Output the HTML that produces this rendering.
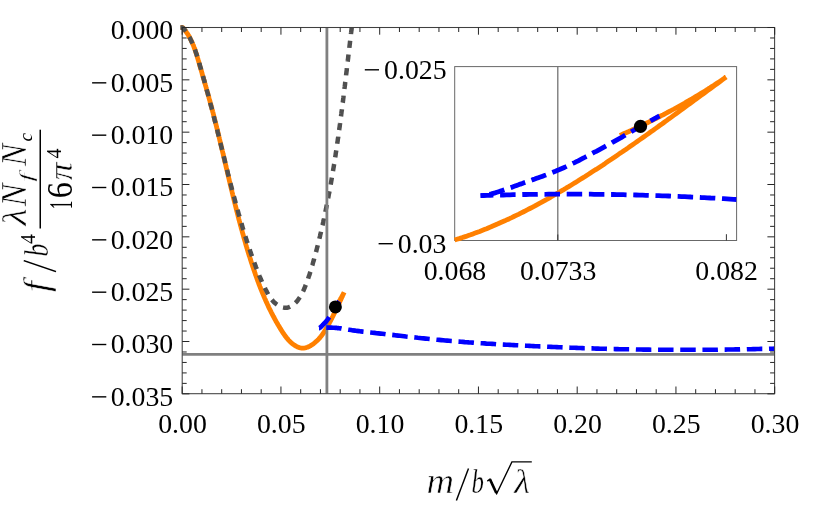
<!DOCTYPE html>
<html><head><meta charset="utf-8"><title>chart</title>
<style>
html,body{margin:0;padding:0;background:#fff;}
body{width:830px;height:509px;overflow:hidden;font-family:"Liberation Serif",serif;}
svg{display:block}
.tk{stroke:#262626;stroke-width:1;fill:none}
.fr0{stroke:#404040;stroke-width:1.05;fill:none}
.itk{stroke:#686868;stroke-width:1}
.itk2{stroke:#333;stroke-width:1}
.iv{stroke:#737373;stroke-width:1.3}
</style></head><body>
<svg width="830" height="509" viewBox="0 0 830 509">
<rect width="830" height="509" fill="#fff"/>
<defs>
<clipPath id="cm"><rect x="179.2" y="24.5" width="595.4000000000001" height="369.2"/></clipPath>
<clipPath id="ci"><rect x="451.7" y="66.1" width="284.90000000000003" height="177.4"/></clipPath>
</defs>
<g clip-path="url(#cm)" fill="none">
<path d="M180.6 27.5 L182.2 27.5 L182.9 27.8 L183.4 28.3 L183.8 28.8 L184.3 29.3 L184.7 29.9 L185.1 30.4 L185.5 31.0 L185.9 31.5 L186.3 32.1 L186.7 32.7 L187.1 33.2 L187.5 33.8 L187.9 34.4 L188.2 35.0 L188.6 35.6 L188.9 36.1 L189.2 36.7 L189.6 37.3 L189.9 37.9 L190.2 38.5 L190.5 39.2 L190.8 39.8 L191.1 40.4 L191.4 41.0 L191.7 41.6 L192.0 42.3 L192.3 42.9 L192.6 43.5 L192.8 44.2 L193.1 44.8 L193.4 45.4 L193.6 46.1 L193.9 46.7 L194.1 47.4 L194.3 48.0 L194.6 48.7 L194.8 49.3 L195.1 50.0 L195.3 50.6 L195.5 51.3 L195.7 52.0 L195.9 52.6 L196.2 53.3 L196.4 53.9 L196.6 54.6 L196.8 55.3 L197.0 55.9 L197.2 56.6 L197.4 57.3 L197.6 58.0 L197.8 58.6 L198.0 59.3 L198.2 60.0 L198.4 60.6 L198.6 61.3 L198.8 62.0 L199.0 62.7 L199.2 63.3 L199.4 64.0 L199.6 64.7 L199.7 65.4 L199.9 66.0 L200.1 66.7 L200.3 67.4 L200.5 68.0 L200.7 68.7 L200.9 69.4 L201.1 70.0 L201.3 70.7 L201.5 71.4 L201.7 72.1 L201.9 72.7 L202.1 73.4 L202.2 74.1 L202.4 74.7 L202.6 75.4 L202.8 76.1 L203.0 76.7 L203.2 77.4 L203.4 78.1 L203.6 78.7 L203.8 79.4 L204.0 80.1 L204.2 80.7 L204.4 81.4 L204.5 82.1 L204.7 82.7 L204.9 83.4 L205.1 84.1 L205.3 84.7 L205.5 85.4 L205.7 86.0 L205.9 86.7 L206.1 87.4 L206.3 88.0 L206.4 88.7 L206.6 89.4 L206.8 90.0 L207.0 90.7 L207.2 91.4 L207.4 92.0 L207.6 92.7 L207.8 93.4 L207.9 94.0 L208.1 94.7 L208.3 95.4 L208.5 96.0 L208.7 96.7 L208.9 97.4 L209.0 98.0 L209.2 98.7 L209.4 99.4 L209.6 100.0 L209.8 100.7 L210.0 101.4 L210.1 102.0 L210.3 102.7 L210.5 103.4 L210.7 104.0 L210.9 104.7 L211.0 105.4 L211.2 106.0 L211.4 106.7 L211.6 107.4 L211.8 108.0 L211.9 108.7 L212.1 109.4 L212.3 110.0 L212.5 110.7 L212.6 111.4 L212.8 112.0 L213.0 112.7 L213.2 113.4 L213.3 114.1 L213.5 114.7 L213.7 115.4 L213.8 116.1 L214.0 116.7 L214.2 117.4 L214.4 118.1 L214.5 118.7 L214.7 119.4 L214.9 120.1 L215.0 120.8 L215.2 121.4 L215.4 122.1 L215.6 122.8 L215.7 123.5 L215.9 124.1 L216.1 124.8 L216.2 125.5 L216.4 126.1 L216.6 126.8 L216.7 127.5 L216.9 128.2 L217.1 128.8 L217.2 129.5 L217.4 130.2 L217.6 130.9 L217.7 131.5 L217.9 132.2 L218.1 132.9 L218.2 133.5 L218.4 134.2 L218.5 134.9 L218.7 135.6 L218.9 136.2 L219.0 136.9 L219.2 137.6 L219.4 138.3 L219.5 138.9 L219.7 139.6 L219.8 140.3 L220.0 141.0 L220.2 141.6 L220.3 142.3 L220.5 143.0 L220.7 143.7 L220.8 144.3 L221.0 145.0 L221.1 145.7 L221.3 146.4 L221.5 147.1 L221.6 147.7 L221.8 148.4 L221.9 149.1 L222.1 149.8 L222.3 150.4 L222.4 151.1 L222.6 151.8 L222.7 152.5 L222.9 153.1 L223.1 153.8 L223.2 154.5 L223.4 155.2 L223.5 155.8 L223.7 156.5 L223.9 157.2 L224.0 157.9 L224.2 158.6 L224.3 159.2 L224.5 159.9 L224.7 160.6 L224.8 161.3 L225.0 161.9 L225.1 162.6 L225.3 163.3 L225.4 164.0 L225.6 164.6 L225.8 165.3 L225.9 166.0 L226.1 166.7 L226.2 167.4 L226.4 168.0 L226.6 168.7 L226.7 169.4 L226.9 170.1 L227.0 170.7 L227.2 171.4 L227.4 172.1 L227.5 172.8 L227.7 173.4 L227.8 174.1 L228.0 174.8 L228.2 175.5 L228.3 176.2 L228.5 176.8 L228.6 177.5 L228.8 178.2 L229.0 178.9 L229.1 179.5 L229.3 180.2 L229.4 180.9 L229.6 181.6 L229.8 182.2 L229.9 182.9 L230.1 183.6 L230.2 184.3 L230.4 184.9 L230.6 185.6 L230.7 186.3 L230.9 187.0 L231.0 187.7 L231.2 188.3 L231.4 189.0 L231.5 189.7 L231.7 190.4 L231.9 191.0 L232.0 191.7 L232.2 192.4 L232.3 193.1 L232.5 193.7 L232.7 194.4 L232.8 195.1 L233.0 195.8 L233.2 196.4 L233.3 197.1 L233.5 197.8 L233.7 198.5 L233.8 199.1 L234.0 199.8 L234.2 200.5 L234.3 201.2 L234.5 201.8 L234.7 202.5 L234.8 203.2 L235.0 203.9 L235.2 204.5 L235.3 205.2 L235.5 205.9 L235.7 206.6 L235.8 207.2 L236.0 207.9 L236.2 208.6 L236.3 209.3 L236.5 209.9 L236.7 210.6 L236.8 211.3 L237.0 211.9 L237.2 212.6 L237.4 213.3 L237.5 214.0 L237.7 214.6 L237.9 215.3 L238.1 216.0 L238.2 216.7 L238.4 217.3 L238.6 218.0 L238.7 218.7 L238.9 219.3 L239.1 220.0 L239.3 220.7 L239.5 221.3 L239.6 222.0 L239.8 222.7 L240.0 223.4 L240.2 224.0 L240.3 224.7 L240.5 225.4 L240.7 226.0 L240.9 226.7 L241.1 227.4 L241.2 228.0 L241.4 228.7 L241.6 229.4 L241.8 230.1 L242.0 230.7 L242.2 231.4 L242.3 232.1 L242.5 232.7 L242.7 233.4 L242.9 234.1 L243.1 234.7 L243.3 235.4 L243.5 236.1 L243.6 236.7 L243.8 237.4 L244.0 238.1 L244.2 238.7 L244.4 239.4 L244.6 240.1 L244.8 240.7 L245.0 241.4 L245.2 242.1 L245.4 242.7 L245.6 243.4 L245.7 244.0 L245.9 244.7 L246.1 245.4 L246.3 246.0 L246.5 246.7 L246.7 247.4 L246.9 248.0 L247.1 248.7 L247.3 249.4 L247.5 250.0 L247.7 250.7 L247.9 251.3 L248.1 252.0 L248.3 252.7 L248.5 253.3 L248.7 254.0 L248.9 254.6 L249.1 255.3 L249.3 256.0 L249.6 256.6 L249.8 257.3 L250.0 257.9 L250.2 258.6 L250.4 259.3 L250.6 259.9 L250.8 260.6 L251.0 261.2 L251.2 261.9 L251.4 262.5 L251.7 263.2 L251.9 263.9 L252.1 264.5 L252.3 265.2 L252.5 265.8 L252.7 266.5 L253.0 267.1 L253.2 267.8 L253.4 268.4 L253.6 269.1 L253.8 269.7 L254.1 270.4 L254.3 271.1 L254.5 271.7 L254.7 272.4 L255.0 273.0 L255.2 273.7 L255.4 274.3 L255.6 275.0 L255.9 275.6 L256.1 276.3 L256.3 276.9 L256.6 277.6 L256.8 278.2 L257.0 278.9 L257.3 279.5 L257.5 280.2 L257.7 280.8 L258.0 281.5 L258.2 282.1 L258.5 282.7 L258.7 283.4 L258.9 284.0 L259.2 284.7 L259.4 285.3 L259.7 286.0 L259.9 286.6 L260.2 287.3 L260.4 287.9 L260.7 288.5 L260.9 289.2 L261.2 289.8 L261.5 290.5 L261.7 291.1 L262.0 291.7 L262.2 292.4 L262.5 293.0 L262.8 293.7 L263.0 294.3 L263.3 294.9 L263.6 295.6 L263.8 296.2 L264.1 296.9 L264.4 297.5 L264.6 298.1 L264.9 298.8 L265.2 299.4 L265.5 300.0 L265.7 300.7 L266.0 301.3 L266.3 301.9 L266.6 302.6 L266.9 303.2 L267.2 303.8 L267.5 304.5 L267.8 305.1 L268.1 305.7 L268.3 306.3 L268.6 307.0 L268.9 307.6 L269.2 308.2 L269.5 308.9 L269.9 309.5 L270.2 310.1 L270.5 310.7 L270.8 311.3 L271.1 312.0 L271.4 312.6 L271.7 313.2 L272.0 313.8 L272.4 314.5 L272.7 315.1 L273.0 315.7 L273.3 316.3 L273.7 316.9 L274.0 317.6 L274.3 318.2 L274.7 318.8 L275.0 319.4 L275.3 320.0 L275.7 320.6 L276.0 321.3 L276.4 321.9 L276.7 322.5 L277.1 323.1 L277.4 323.7 L277.8 324.3 L278.1 324.9 L278.5 325.5 L278.9 326.1 L279.2 326.7 L279.6 327.4 L280.0 328.0 L280.3 328.6 L280.7 329.2 L281.1 329.8 L281.5 330.4 L281.8 331.0 L282.2 331.6 L282.6 332.2 L283.0 332.8 L283.4 333.4 L283.8 334.0 L284.2 334.5 L284.6 335.1 L285.0 335.7 L285.4 336.3 L285.9 336.8 L286.3 337.4 L286.7 337.9 L287.2 338.5 L287.6 339.0 L288.1 339.5 L288.5 340.1 L289.0 340.6 L289.5 341.1 L290.0 341.5 L290.4 342.0 L290.9 342.5 L291.4 342.9 L292.0 343.4 L292.5 343.8 L293.0 344.2 L293.6 344.6 L294.1 345.0 L294.7 345.4 L295.3 345.7 L295.8 346.1 L296.4 346.4 L297.0 346.7 L297.6 347.0 L298.3 347.2 L298.9 347.5 L299.5 347.7 L300.1 347.8 L300.8 348.0 L301.4 348.1 L302.0 348.1 L302.7 348.1 L303.3 348.1 L304.0 348.1 L304.6 348.0 L305.2 347.9 L305.9 347.7 L306.5 347.5 L307.2 347.3 L307.8 347.1 L308.4 346.8 L309.0 346.5 L309.7 346.2 L310.3 345.9 L310.9 345.5 L311.5 345.1 L312.1 344.7 L312.7 344.3 L313.3 343.9 L313.9 343.4 L314.4 343.0 L315.0 342.5 L315.5 342.0 L316.1 341.5 L316.6 341.0 L317.1 340.6 L317.7 340.1 L318.2 339.6 L318.7 339.1 L319.1 338.6 L319.6 338.0 L320.1 337.5 L320.5 336.9 L321.0 336.4 L321.4 335.8 L321.9 335.2 L322.1 334.9 L322.3 334.6 L322.5 334.3 L322.8 334.0 L323.0 333.6 L323.2 333.3 L323.5 332.9 L323.7 332.6 L323.9 332.2 L324.2 331.9 L324.4 331.5 L324.6 331.2 L324.8 330.8 L325.1 330.4 L325.3 330.0 L325.5 329.7 L325.8 329.3 L326.0 328.9 L326.2 328.5 L326.5 328.1 L326.7 327.7 L326.9 327.3 L327.2 326.9 L327.4 326.5 L327.6 326.1 L327.9 325.7 L328.1 325.3 L328.3 324.9 L328.6 324.4 L328.8 324.0 L329.0 323.6 L329.3 323.2 L329.5 322.7 L329.7 322.3 L330.0 321.9 L330.2 321.4 L330.4 321.0 L330.7 320.6 L330.9 320.1 L331.1 319.7 L331.3 319.2 L331.6 318.8 L331.8 318.3 L332.0 317.8 L332.3 317.4 L332.5 316.9 L332.7 316.5 L333.0 316.0 L333.2 315.5 L333.4 315.1 L333.7 314.6 L333.9 314.1 L334.1 313.7 L334.4 313.2 L334.6 312.7 L334.8 312.2 L335.1 311.7 L335.3 311.3 L335.5 310.8 L335.8 310.3 L336.0 309.8 L336.2 309.3 L336.5 308.8 L336.7 308.3 L336.9 307.8 L337.2 307.4 L337.4 306.9 L337.6 306.4 L337.9 305.9 L338.1 305.4 L338.3 304.9 L338.5 304.4 L338.8 303.9 L339.0 303.4 L339.2 302.9 L339.5 302.4 L339.7 301.9 L339.9 301.4 L340.2 300.9 L340.4 300.4 L340.6 299.9 L340.9 299.4 L341.1 298.9 L341.3 298.4 L341.6 297.9 L341.8 297.4 L342.0 296.9 L342.3 296.4 L342.5 295.8 L342.7 295.3 L343.0 294.8 L343.2 294.3 L343.4 293.8 L343.7 293.3 L343.9 292.8 L344.1 292.3 L344.1 292.3 L343.9 292.7 L343.8 293.1 L343.6 293.5 L343.4 293.8 L343.2 294.2 L343.0 294.5 L342.8 294.9 L342.7 295.2 L342.5 295.6 L342.3 295.9 L342.1 296.3 L341.9 296.6 L341.7 296.9 L341.6 297.3 L341.4 297.6 L341.2 297.9 L341.0 298.2 L340.8 298.6 L340.6 298.9 L340.5 299.2 L340.3 299.5 L340.1 299.8 L339.9 300.1 L339.7 300.4 L339.5 300.8 L339.4 301.1 L339.2 301.4 L339.0 301.7 L338.8 302.0 L338.6 302.3 L338.4 302.5 L338.3 302.8 L338.1 303.1 L337.9 303.4 L337.7 303.7 L337.5 304.0 L337.3 304.3 L337.2 304.5 L337.0 304.8 L336.8 305.1 L336.6 305.4 L336.4 305.6 L336.2 305.9 L336.1 306.2 L335.9 306.4 L335.7 306.7 L335.5 307.0 L335.3 307.2 L335.1 307.5 L335.0 307.7 L334.8 308.0 L334.6 308.2 L334.4 308.5 L334.2 308.7 L334.0 309.0 L333.9 309.2 L333.7 309.4 L333.5 309.7 L333.3 309.9" stroke="#ff8000" stroke-width="4.8" stroke-linejoin="bevel"/>
<path d="M180.4 27.5 L182.2 27.5 L183.3 28.1 L184.0 29.1 L184.8 30.0 L185.5 31.0 L186.2 31.9 L186.8 32.9 L187.5 33.9 L188.1 34.9 L188.7 35.9 L189.3 37.0 L189.9 38.0 L190.4 39.0 L190.9 40.1 L191.4 41.2 L191.9 42.3 L192.4 43.3 L192.9 44.4 L193.4 45.5 L193.8 46.7 L194.2 47.8 L194.7 48.9 L195.1 50.0 L195.5 51.2 L195.9 52.3 L196.2 53.4 L196.6 54.6 L197.0 55.7 L197.4 56.9 L197.7 58.0 L198.1 59.2 L198.4 60.4 L198.8 61.5 L199.1 62.7 L199.4 63.8 L199.8 65.0 L200.1 66.2 L200.4 67.3 L200.8 68.5 L201.1 69.6 L201.4 70.8 L201.8 72.0 L202.1 73.1 L202.4 74.3 L202.8 75.4 L203.1 76.6 L203.4 77.7 L203.7 78.9 L204.1 80.1 L204.4 81.2 L204.7 82.4 L205.0 83.5 L205.3 84.7 L205.7 85.8 L206.0 87.0 L206.3 88.1 L206.6 89.3 L206.9 90.5 L207.2 91.6 L207.6 92.8 L207.9 93.9 L208.2 95.1 L208.5 96.2 L208.8 97.4 L209.1 98.5 L209.4 99.7 L209.7 100.9 L210.0 102.0 L210.3 103.2 L210.6 104.3 L210.9 105.5 L211.3 106.6 L211.6 107.8 L211.9 109.0 L212.2 110.1 L212.5 111.3 L212.8 112.4 L213.1 113.6 L213.4 114.8 L213.7 115.9 L213.9 117.1 L214.2 118.2 L214.5 119.4 L214.8 120.6 L215.1 121.7 L215.4 122.9 L215.7 124.0 L216.0 125.2 L216.3 126.4 L216.6 127.5 L216.9 128.7 L217.2 129.9 L217.5 131.0 L217.7 132.2 L218.0 133.4 L218.3 134.5 L218.6 135.7 L218.9 136.9 L219.2 138.0 L219.5 139.2 L219.8 140.3 L220.1 141.5 L220.3 142.7 L220.6 143.8 L220.9 145.0 L221.2 146.2 L221.5 147.3 L221.8 148.5 L222.1 149.7 L222.4 150.8 L222.6 152.0 L222.9 153.2 L223.2 154.3 L223.5 155.5 L223.8 156.7 L224.1 157.8 L224.4 159.0 L224.7 160.2 L224.9 161.4 L225.2 162.5 L225.5 163.7 L225.8 164.9 L226.1 166.0 L226.4 167.2 L226.7 168.4 L227.0 169.5 L227.3 170.7 L227.6 171.8 L227.8 173.0 L228.1 174.2 L228.4 175.3 L228.7 176.5 L229.0 177.7 L229.3 178.8 L229.6 180.0 L229.9 181.2 L230.2 182.3 L230.5 183.5 L230.8 184.7 L231.1 185.8 L231.4 187.0 L231.7 188.2 L232.0 189.3 L232.3 190.5 L232.6 191.6 L232.9 192.8 L233.2 194.0 L233.5 195.1 L233.8 196.3 L234.2 197.5 L234.5 198.6 L234.8 199.8 L235.1 200.9 L235.4 202.1 L235.7 203.3 L236.0 204.4 L236.3 205.6 L236.7 206.7 L237.0 207.9 L237.3 209.0 L237.6 210.2 L238.0 211.4 L238.3 212.5 L238.6 213.7 L238.9 214.8 L239.3 216.0 L239.6 217.1 L239.9 218.3 L240.3 219.4 L240.6 220.6 L240.9 221.7 L241.3 222.9 L241.6 224.0 L242.0 225.2 L242.3 226.3 L242.6 227.5 L243.0 228.6 L243.3 229.8 L243.7 230.9 L244.0 232.1 L244.4 233.2 L244.8 234.3 L245.1 235.5 L245.5 236.6 L245.8 237.8 L246.2 238.9 L246.6 240.1 L246.9 241.2 L247.3 242.3 L247.7 243.5 L248.0 244.6 L248.4 245.7 L248.8 246.9 L249.2 248.0 L249.6 249.1 L250.0 250.3 L250.3 251.4 L250.7 252.5 L251.1 253.7 L251.5 254.8 L251.9 255.9 L252.3 257.1 L252.7 258.2 L253.1 259.3 L253.5 260.4 L253.9 261.6 L254.3 262.7 L254.8 263.8 L255.2 264.9 L255.6 266.0 L256.0 267.2 L256.4 268.3 L256.9 269.4 L257.3 270.5 L257.7 271.6 L258.2 272.7 L258.6 273.8 L259.1 275.0 L259.5 276.1 L260.0 277.2 L260.5 278.3 L260.9 279.4 L261.4 280.5 L261.9 281.6 L262.4 282.7 L262.9 283.8 L263.4 284.9 L263.9 286.0 L264.5 287.1 L265.0 288.2 L265.5 289.3 L266.1 290.3 L266.7 291.4 L267.2 292.5 L267.8 293.6 L268.4 294.7 L269.1 295.7 L269.7 296.7 L270.4 297.8 L271.1 298.8 L271.9 299.7 L272.7 300.7 L273.5 301.6 L274.4 302.5 L275.3 303.3 L276.2 304.1 L277.2 304.8 L278.2 305.5 L279.3 306.1 L280.3 306.6 L281.4 307.0 L282.5 307.4 L283.6 307.6 L284.7 307.8 L285.8 307.8 L286.9 307.7 L287.9 307.5 L289.0 307.2 L290.0 306.8 L291.0 306.3 L292.0 305.7 L293.0 305.0 L293.9 304.3 L294.8 303.5 L295.7 302.6 L296.6 301.7 L297.4 300.8 L298.1 299.8 L298.8 298.8 L299.5 297.8 L300.2 296.8 L300.8 295.7 L301.4 294.6 L302.0 293.6 L302.5 292.4 L303.1 291.3 L303.6 290.2 L304.1 289.1 L304.6 288.0 L305.0 286.8 L305.5 285.7 L305.9 284.6 L306.4 283.4 L306.8 282.3 L307.2 281.1 L307.6 280.0 L308.0 278.9 L308.4 277.7 L308.8 276.6 L309.2 275.4 L309.6 274.3 L309.9 273.2 L310.3 272.0 L310.7 270.9 L311.0 269.7 L311.3 268.6 L311.7 267.4 L312.0 266.3 L312.4 265.1 L312.7 264.0 L313.0 262.8 L313.3 261.7 L313.7 260.5 L314.0 259.4 L314.3 258.2 L314.6 257.1 L314.9 255.9 L315.2 254.7 L315.5 253.6 L315.9 252.4 L316.2 251.3 L316.5 250.1 L316.8 249.0 L317.1 247.8 L317.4 246.6 L317.7 245.5 L318.0 244.3 L318.2 243.2 L318.5 242.0 L318.8 240.8 L319.1 239.7 L319.4 238.5 L319.7 237.4 L320.0 236.2 L320.2 235.0 L320.5 233.9 L320.8 232.7 L321.1 231.5 L321.3 230.4 L321.6 229.2 L321.9 228.0 L322.1 226.9 L322.4 225.7 L322.7 224.5 L322.9 223.4 L323.2 222.2 L323.4 221.0 L323.7 219.9 L324.0 218.7 L324.2 217.5 L324.5 216.3 L324.7 215.2 L325.0 214.0 L325.2 212.8 L325.4 211.6 L325.7 210.5 L325.9 209.3 L326.2 208.1 L326.4 207.0 L326.6 205.8 L326.9 204.6 L327.1 203.4 L327.3 202.3 L327.6 201.1 L327.8 199.9 L328.0 198.7 L328.3 197.5 L328.5 196.4 L328.7 195.2 L328.9 194.0 L329.2 192.8 L329.4 191.6 L329.6 190.5 L329.8 189.3 L330.0 188.1 L330.2 186.9 L330.5 185.7 L330.7 184.6 L330.9 183.4 L331.1 182.2 L331.3 181.0 L331.5 179.8 L331.7 178.7 L331.9 177.5 L332.1 176.3 L332.3 175.1 L332.5 173.9 L332.7 172.7 L332.9 171.6 L333.1 170.4 L333.3 169.2 L333.5 168.0 L333.7 166.8 L333.9 165.6 L334.1 164.4 L334.3 163.3 L334.4 162.1 L334.6 160.9 L334.8 159.7 L335.0 158.5 L335.2 157.3 L335.4 156.1 L335.6 154.9 L335.7 153.8 L335.9 152.6 L336.1 151.4 L336.3 150.2 L336.5 149.0 L336.6 147.8 L336.8 146.6 L337.0 145.4 L337.2 144.3 L337.3 143.1 L337.5 141.9 L337.7 140.7 L337.8 139.5 L338.0 138.3 L338.2 137.1 L338.3 135.9 L338.5 134.7 L338.7 133.5 L338.8 132.3 L339.0 131.2 L339.2 130.0 L339.3 128.8 L339.5 127.6 L339.7 126.4 L339.8 125.2 L340.0 124.0 L340.1 122.8 L340.3 121.6 L340.5 120.4 L340.6 119.2 L340.8 118.1 L340.9 116.9 L341.1 115.7 L341.2 114.5 L341.4 113.3 L341.5 112.1 L341.7 110.9 L341.9 109.7 L342.0 108.5 L342.2 107.3 L342.3 106.1 L342.5 104.9 L342.6 103.7 L342.8 102.6 L342.9 101.4 L343.1 100.2 L343.2 99.0 L343.4 97.8 L343.5 96.6 L343.6 95.4 L343.8 94.2 L343.9 93.0 L344.1 91.8 L344.2 90.6 L344.4 89.4 L344.5 88.2 L344.7 87.0 L344.8 85.9 L345.0 84.7 L345.1 83.5 L345.2 82.3 L345.4 81.1 L345.5 79.9 L345.7 78.7 L345.8 77.5 L346.0 76.3 L346.1 75.1 L346.2 73.9 L346.4 72.7 L346.5 71.6 L346.7 70.4 L346.8 69.2 L346.9 68.0 L347.1 66.8 L347.2 65.6 L347.4 64.4 L347.5 63.2 L347.6 62.0 L347.8 60.8 L347.9 59.6 L348.1 58.5 L348.2 57.3 L348.3 56.1 L348.5 54.9 L348.6 53.7 L348.8 52.5 L348.9 51.3 L349.1 50.1 L349.2 48.9 L349.3 47.7 L349.5 46.6 L349.6 45.4 L349.8 44.2 L349.9 43.0 L350.0 41.8 L350.2 40.6 L350.3 39.4 L350.5 38.2 L350.6 37.1 L350.7 35.9 L350.9 34.7 L351.0 33.5 L351.2 32.3 L351.3 31.1 L351.5 29.9 L351.6 28.8 L351.7 27.6" stroke="#505050" stroke-width="4.5" stroke-dasharray="7.2 6.62" stroke-dashoffset="0.00"/>
<line x1="326.9" y1="27.5" x2="326.9" y2="393.7" stroke="#808080" stroke-width="2.8"/>
<line x1="182.2" y1="354.4" x2="774.6" y2="354.4" stroke="#808080" stroke-width="2.8"/>
<path d="M319.1 328.0 L319.3 328.0 L319.5 327.9 L319.7 327.8 L320.0 327.7 L320.2 327.6 L320.4 327.4 L320.6 327.2 L320.8 327.0 L321.0 326.8 L321.2 326.6 L321.4 326.4 L321.6 326.2 L321.8 326.0 L322.0 325.8 L322.2 325.6 L322.4 325.4 L322.6 325.2 L322.8 325.0 L323.0 324.7 L323.2 324.5 L323.4 324.3 L323.6 324.1 L323.8 323.9 L324.0 323.7 L324.2 323.4 L324.4 323.2 L324.6 323.0 L324.8 322.8 L325.0 322.6 L325.3 322.4 L325.5 322.2 L325.7 321.9 L325.9 321.7 L326.1 321.5 L326.3 321.2 L326.5 321.0 L326.7 320.8 L326.9 320.5 L327.1 320.3 L327.3 320.0 L327.5 319.7 L327.7 319.5 L327.9 319.2 L328.1 318.9 L328.3 318.6 L328.5 318.3 L328.7 318.0 L328.9 317.7 L329.1 317.4 L329.3 317.1 L329.5 316.8 L329.7 316.5 L329.9 316.2 L330.1 315.9 L330.3 315.5 L330.6 315.2 L330.8 314.9 L331.0 314.6 L331.2 314.2 L331.4 313.9 L331.6 313.6 L331.8 313.3 L332.0 312.9 L332.2 312.6 L332.4 312.3 L332.6 311.9 L332.8 311.6 L333.0 311.3 L333.2 310.9 L333.4 310.6 L333.6 310.2 L333.8 309.9 L334.0 309.5 L334.2 309.2 L334.4 308.8 L334.6 308.5 L334.8 308.1 L335.0 307.8 L335.2 307.4 L335.4 307.1 L335.6 306.8 L335.9 306.4 L336.1 306.1 L336.3 305.7 L336.5 305.4 L336.7 305.1 L336.9 304.8 L337.1 304.5 L337.3 304.1 L337.5 303.8 L337.7 303.5 L337.9 303.3 L338.1 303.0 L338.3 302.7 L338.5 302.4 L338.7 302.2 L338.9 301.9 L339.1 301.7 L339.3 301.4" stroke="#0000ff" stroke-width="4.6" stroke-dasharray="15.5 6.7" stroke-dashoffset="0.4"/>
<path d="M319.1 328.0 L319.5 328.0 L319.8 327.9 L320.1 327.9 L320.5 327.9 L320.8 327.9 L321.1 327.8 L321.4 327.8 L321.8 327.8 L322.1 327.8 L322.4 327.7 L322.8 327.7 L323.1 327.7 L323.4 327.7 L323.8 327.7 L324.1 327.7 L324.4 327.6 L324.7 327.6 L325.1 327.6 L325.4 327.6 L325.7 327.6 L326.1 327.6 L326.4 327.6 L326.7 327.6 L327.0 327.6 L327.4 327.6 L327.7 327.6 L328.0 327.6 L328.4 327.6 L328.7 327.6 L329.0 327.6 L329.4 327.6 L329.7 327.6 L330.0 327.6 L330.3 327.6 L330.7 327.6 L331.0 327.6 L331.3 327.6 L331.7 327.6 L332.0 327.7 L332.3 327.7 L332.7 327.7 L333.0 327.7 L333.3 327.7 L333.6 327.7 L334.0 327.8 L334.3 327.8 L334.6 327.8 L335.0 327.8 L335.3 327.9 L335.6 327.9 L335.9 327.9 L336.3 327.9 L336.6 328.0 L336.9 328.0 L337.3 328.0 L337.6 328.1 L337.9 328.1 L338.3 328.1 L338.6 328.2 L338.9 328.2 L339.2 328.3 L339.6 328.3 L339.9 328.3 L340.2 328.4 L340.6 328.4 L340.9 328.5 L341.2 328.5 L341.6 328.6 L341.9 328.6 L342.2 328.7 L342.5 328.7 L342.9 328.8 L343.2 328.8 L343.5 328.9 L343.9 328.9 L344.2 329.0 L344.5 329.0 L344.8 329.1 L345.2 329.2 L347.1 329.5 L349.1 329.8 L351.1 330.1 L353.0 330.4 L355.0 330.6 L356.9 330.9 L358.9 331.1 L360.9 331.4 L362.8 331.6 L364.8 331.8 L366.7 332.1 L368.7 332.3 L370.7 332.5 L372.6 332.7 L374.6 332.9 L376.6 333.2 L378.5 333.4 L380.5 333.6 L382.4 333.8 L384.4 334.0 L386.4 334.3 L388.3 334.5 L390.3 334.7 L392.2 334.9 L394.2 335.1 L396.2 335.4 L398.1 335.6 L400.1 335.8 L402.0 336.0 L404.0 336.2 L406.0 336.5 L407.9 336.7 L409.9 336.9 L411.8 337.1 L413.8 337.3 L415.8 337.5 L417.7 337.8 L419.7 338.0 L421.7 338.2 L423.6 338.4 L425.6 338.6 L427.5 338.8 L429.5 339.0 L431.5 339.2 L433.4 339.4 L435.4 339.6 L437.3 339.8 L439.3 339.9 L441.3 340.1 L443.2 340.3 L445.2 340.5 L447.1 340.6 L449.1 340.8 L451.1 341.0 L453.0 341.1 L455.0 341.3 L456.9 341.5 L458.9 341.6 L460.9 341.8 L462.8 341.9 L464.8 342.1 L466.7 342.2 L468.7 342.4 L470.7 342.5 L472.6 342.6 L474.6 342.8 L476.6 342.9 L478.5 343.1 L480.5 343.2 L482.4 343.3 L484.4 343.4 L486.4 343.6 L488.3 343.7 L490.3 343.8 L492.2 343.9 L494.2 344.0 L496.2 344.2 L498.1 344.3 L500.1 344.4 L502.0 344.5 L504.0 344.6 L506.0 344.7 L507.9 344.8 L509.9 344.9 L511.8 345.0 L513.8 345.1 L515.8 345.2 L517.7 345.3 L519.7 345.4 L521.7 345.5 L523.6 345.6 L525.6 345.7 L527.5 345.8 L529.5 345.9 L531.5 346.0 L533.4 346.1 L535.4 346.2 L537.3 346.3 L539.3 346.4 L541.3 346.4 L543.2 346.5 L545.2 346.6 L547.1 346.7 L549.1 346.8 L551.1 346.9 L553.0 347.0 L555.0 347.0 L556.9 347.1 L558.9 347.2 L560.9 347.3 L562.8 347.4 L564.8 347.4 L566.8 347.5 L568.7 347.6 L570.7 347.7 L572.6 347.7 L574.6 347.8 L576.6 347.9 L578.5 348.0 L580.5 348.0 L582.4 348.1 L584.4 348.2 L586.4 348.2 L588.3 348.3 L590.3 348.4 L592.2 348.4 L594.2 348.5 L596.2 348.6 L598.1 348.6 L600.1 348.7 L602.0 348.7 L604.0 348.8 L606.0 348.8 L607.9 348.9 L609.9 348.9 L611.9 349.0 L613.8 349.0 L615.8 349.1 L617.7 349.1 L619.7 349.2 L621.7 349.2 L623.6 349.2 L625.6 349.3 L627.5 349.3 L629.5 349.3 L631.5 349.4 L633.4 349.4 L635.4 349.4 L637.3 349.5 L639.3 349.5 L641.3 349.5 L643.2 349.6 L645.2 349.6 L647.1 349.6 L649.1 349.6 L651.1 349.7 L653.0 349.7 L655.0 349.7 L657.0 349.7 L658.9 349.7 L660.9 349.7 L662.8 349.8 L664.8 349.8 L666.8 349.8 L668.7 349.8 L670.7 349.8 L672.6 349.8 L674.6 349.8 L676.6 349.8 L678.5 349.8 L680.5 349.8 L682.4 349.8 L684.4 349.8 L686.4 349.8 L688.3 349.8 L690.3 349.8 L692.2 349.8 L694.2 349.8 L696.2 349.8 L698.1 349.8 L700.1 349.8 L702.0 349.8 L704.0 349.8 L706.0 349.8 L707.9 349.7 L709.9 349.7 L711.9 349.7 L713.8 349.7 L715.8 349.7 L717.7 349.7 L719.7 349.6 L721.7 349.6 L723.6 349.6 L725.6 349.6 L727.5 349.5 L729.5 349.5 L731.5 349.5 L733.4 349.5 L735.4 349.4 L737.3 349.4 L739.3 349.4 L741.3 349.3 L743.2 349.3 L745.2 349.3 L747.1 349.2 L749.1 349.2 L751.1 349.2 L753.0 349.1 L755.0 349.1 L757.0 349.0 L758.9 349.0 L760.9 348.9 L762.8 348.9 L764.8 348.8 L766.8 348.8 L768.7 348.8 L770.7 348.7 L772.6 348.7 L774.6 348.6" stroke="#0000ff" stroke-width="4.6" stroke-dasharray="15.5 6.7" stroke-dashoffset="15.0"/>
</g>
<circle cx="335.4" cy="306.9" r="6.5" fill="#000"/>
<g class="fr">
<rect x="182.2" y="27.5" width="592.4000000000001" height="366.2" fill="none" class="fr0"/>
<line x1="182.20" y1="393.70" x2="182.20" y2="386.50" class="tk"/>
<line x1="182.20" y1="27.50" x2="182.20" y2="34.70" class="tk"/>
<line x1="201.95" y1="393.70" x2="201.95" y2="389.20" class="tk"/>
<line x1="201.95" y1="27.50" x2="201.95" y2="32.00" class="tk"/>
<line x1="221.70" y1="393.70" x2="221.70" y2="389.20" class="tk"/>
<line x1="221.70" y1="27.50" x2="221.70" y2="32.00" class="tk"/>
<line x1="241.45" y1="393.70" x2="241.45" y2="389.20" class="tk"/>
<line x1="241.45" y1="27.50" x2="241.45" y2="32.00" class="tk"/>
<line x1="261.20" y1="393.70" x2="261.20" y2="389.20" class="tk"/>
<line x1="261.20" y1="27.50" x2="261.20" y2="32.00" class="tk"/>
<line x1="280.95" y1="393.70" x2="280.95" y2="386.50" class="tk"/>
<line x1="280.95" y1="27.50" x2="280.95" y2="34.70" class="tk"/>
<line x1="300.70" y1="393.70" x2="300.70" y2="389.20" class="tk"/>
<line x1="300.70" y1="27.50" x2="300.70" y2="32.00" class="tk"/>
<line x1="320.45" y1="393.70" x2="320.45" y2="389.20" class="tk"/>
<line x1="320.45" y1="27.50" x2="320.45" y2="32.00" class="tk"/>
<line x1="340.20" y1="393.70" x2="340.20" y2="389.20" class="tk"/>
<line x1="340.20" y1="27.50" x2="340.20" y2="32.00" class="tk"/>
<line x1="359.95" y1="393.70" x2="359.95" y2="389.20" class="tk"/>
<line x1="359.95" y1="27.50" x2="359.95" y2="32.00" class="tk"/>
<line x1="379.70" y1="393.70" x2="379.70" y2="386.50" class="tk"/>
<line x1="379.70" y1="27.50" x2="379.70" y2="34.70" class="tk"/>
<line x1="399.45" y1="393.70" x2="399.45" y2="389.20" class="tk"/>
<line x1="399.45" y1="27.50" x2="399.45" y2="32.00" class="tk"/>
<line x1="419.20" y1="393.70" x2="419.20" y2="389.20" class="tk"/>
<line x1="419.20" y1="27.50" x2="419.20" y2="32.00" class="tk"/>
<line x1="438.95" y1="393.70" x2="438.95" y2="389.20" class="tk"/>
<line x1="438.95" y1="27.50" x2="438.95" y2="32.00" class="tk"/>
<line x1="458.70" y1="393.70" x2="458.70" y2="389.20" class="tk"/>
<line x1="458.70" y1="27.50" x2="458.70" y2="32.00" class="tk"/>
<line x1="478.45" y1="393.70" x2="478.45" y2="386.50" class="tk"/>
<line x1="478.45" y1="27.50" x2="478.45" y2="34.70" class="tk"/>
<line x1="498.20" y1="393.70" x2="498.20" y2="389.20" class="tk"/>
<line x1="498.20" y1="27.50" x2="498.20" y2="32.00" class="tk"/>
<line x1="517.95" y1="393.70" x2="517.95" y2="389.20" class="tk"/>
<line x1="517.95" y1="27.50" x2="517.95" y2="32.00" class="tk"/>
<line x1="537.70" y1="393.70" x2="537.70" y2="389.20" class="tk"/>
<line x1="537.70" y1="27.50" x2="537.70" y2="32.00" class="tk"/>
<line x1="557.45" y1="393.70" x2="557.45" y2="389.20" class="tk"/>
<line x1="557.45" y1="27.50" x2="557.45" y2="32.00" class="tk"/>
<line x1="577.20" y1="393.70" x2="577.20" y2="386.50" class="tk"/>
<line x1="577.20" y1="27.50" x2="577.20" y2="34.70" class="tk"/>
<line x1="596.95" y1="393.70" x2="596.95" y2="389.20" class="tk"/>
<line x1="596.95" y1="27.50" x2="596.95" y2="32.00" class="tk"/>
<line x1="616.70" y1="393.70" x2="616.70" y2="389.20" class="tk"/>
<line x1="616.70" y1="27.50" x2="616.70" y2="32.00" class="tk"/>
<line x1="636.45" y1="393.70" x2="636.45" y2="389.20" class="tk"/>
<line x1="636.45" y1="27.50" x2="636.45" y2="32.00" class="tk"/>
<line x1="656.20" y1="393.70" x2="656.20" y2="389.20" class="tk"/>
<line x1="656.20" y1="27.50" x2="656.20" y2="32.00" class="tk"/>
<line x1="675.95" y1="393.70" x2="675.95" y2="386.50" class="tk"/>
<line x1="675.95" y1="27.50" x2="675.95" y2="34.70" class="tk"/>
<line x1="695.70" y1="393.70" x2="695.70" y2="389.20" class="tk"/>
<line x1="695.70" y1="27.50" x2="695.70" y2="32.00" class="tk"/>
<line x1="715.45" y1="393.70" x2="715.45" y2="389.20" class="tk"/>
<line x1="715.45" y1="27.50" x2="715.45" y2="32.00" class="tk"/>
<line x1="735.20" y1="393.70" x2="735.20" y2="389.20" class="tk"/>
<line x1="735.20" y1="27.50" x2="735.20" y2="32.00" class="tk"/>
<line x1="754.95" y1="393.70" x2="754.95" y2="389.20" class="tk"/>
<line x1="754.95" y1="27.50" x2="754.95" y2="32.00" class="tk"/>
<line x1="774.70" y1="393.70" x2="774.70" y2="386.50" class="tk"/>
<line x1="774.70" y1="27.50" x2="774.70" y2="34.70" class="tk"/>
<line x1="182.20" y1="27.50" x2="189.40" y2="27.50" class="tk"/>
<line x1="774.60" y1="27.50" x2="767.40" y2="27.50" class="tk"/>
<line x1="182.20" y1="37.97" x2="186.70" y2="37.97" class="tk"/>
<line x1="774.60" y1="37.97" x2="770.10" y2="37.97" class="tk"/>
<line x1="182.20" y1="48.43" x2="186.70" y2="48.43" class="tk"/>
<line x1="774.60" y1="48.43" x2="770.10" y2="48.43" class="tk"/>
<line x1="182.20" y1="58.90" x2="186.70" y2="58.90" class="tk"/>
<line x1="774.60" y1="58.90" x2="770.10" y2="58.90" class="tk"/>
<line x1="182.20" y1="69.37" x2="186.70" y2="69.37" class="tk"/>
<line x1="774.60" y1="69.37" x2="770.10" y2="69.37" class="tk"/>
<line x1="182.20" y1="79.84" x2="189.40" y2="79.84" class="tk"/>
<line x1="774.60" y1="79.84" x2="767.40" y2="79.84" class="tk"/>
<line x1="182.20" y1="90.30" x2="186.70" y2="90.30" class="tk"/>
<line x1="774.60" y1="90.30" x2="770.10" y2="90.30" class="tk"/>
<line x1="182.20" y1="100.77" x2="186.70" y2="100.77" class="tk"/>
<line x1="774.60" y1="100.77" x2="770.10" y2="100.77" class="tk"/>
<line x1="182.20" y1="111.24" x2="186.70" y2="111.24" class="tk"/>
<line x1="774.60" y1="111.24" x2="770.10" y2="111.24" class="tk"/>
<line x1="182.20" y1="121.70" x2="186.70" y2="121.70" class="tk"/>
<line x1="774.60" y1="121.70" x2="770.10" y2="121.70" class="tk"/>
<line x1="182.20" y1="132.17" x2="189.40" y2="132.17" class="tk"/>
<line x1="774.60" y1="132.17" x2="767.40" y2="132.17" class="tk"/>
<line x1="182.20" y1="142.64" x2="186.70" y2="142.64" class="tk"/>
<line x1="774.60" y1="142.64" x2="770.10" y2="142.64" class="tk"/>
<line x1="182.20" y1="153.10" x2="186.70" y2="153.10" class="tk"/>
<line x1="774.60" y1="153.10" x2="770.10" y2="153.10" class="tk"/>
<line x1="182.20" y1="163.57" x2="186.70" y2="163.57" class="tk"/>
<line x1="774.60" y1="163.57" x2="770.10" y2="163.57" class="tk"/>
<line x1="182.20" y1="174.04" x2="186.70" y2="174.04" class="tk"/>
<line x1="774.60" y1="174.04" x2="770.10" y2="174.04" class="tk"/>
<line x1="182.20" y1="184.50" x2="189.40" y2="184.50" class="tk"/>
<line x1="774.60" y1="184.50" x2="767.40" y2="184.50" class="tk"/>
<line x1="182.20" y1="194.97" x2="186.70" y2="194.97" class="tk"/>
<line x1="774.60" y1="194.97" x2="770.10" y2="194.97" class="tk"/>
<line x1="182.20" y1="205.44" x2="186.70" y2="205.44" class="tk"/>
<line x1="774.60" y1="205.44" x2="770.10" y2="205.44" class="tk"/>
<line x1="182.20" y1="215.91" x2="186.70" y2="215.91" class="tk"/>
<line x1="774.60" y1="215.91" x2="770.10" y2="215.91" class="tk"/>
<line x1="182.20" y1="226.37" x2="186.70" y2="226.37" class="tk"/>
<line x1="774.60" y1="226.37" x2="770.10" y2="226.37" class="tk"/>
<line x1="182.20" y1="236.84" x2="189.40" y2="236.84" class="tk"/>
<line x1="774.60" y1="236.84" x2="767.40" y2="236.84" class="tk"/>
<line x1="182.20" y1="247.31" x2="186.70" y2="247.31" class="tk"/>
<line x1="774.60" y1="247.31" x2="770.10" y2="247.31" class="tk"/>
<line x1="182.20" y1="257.77" x2="186.70" y2="257.77" class="tk"/>
<line x1="774.60" y1="257.77" x2="770.10" y2="257.77" class="tk"/>
<line x1="182.20" y1="268.24" x2="186.70" y2="268.24" class="tk"/>
<line x1="774.60" y1="268.24" x2="770.10" y2="268.24" class="tk"/>
<line x1="182.20" y1="278.71" x2="186.70" y2="278.71" class="tk"/>
<line x1="774.60" y1="278.71" x2="770.10" y2="278.71" class="tk"/>
<line x1="182.20" y1="289.18" x2="189.40" y2="289.18" class="tk"/>
<line x1="774.60" y1="289.18" x2="767.40" y2="289.18" class="tk"/>
<line x1="182.20" y1="299.64" x2="186.70" y2="299.64" class="tk"/>
<line x1="774.60" y1="299.64" x2="770.10" y2="299.64" class="tk"/>
<line x1="182.20" y1="310.11" x2="186.70" y2="310.11" class="tk"/>
<line x1="774.60" y1="310.11" x2="770.10" y2="310.11" class="tk"/>
<line x1="182.20" y1="320.58" x2="186.70" y2="320.58" class="tk"/>
<line x1="774.60" y1="320.58" x2="770.10" y2="320.58" class="tk"/>
<line x1="182.20" y1="331.04" x2="186.70" y2="331.04" class="tk"/>
<line x1="774.60" y1="331.04" x2="770.10" y2="331.04" class="tk"/>
<line x1="182.20" y1="341.51" x2="189.40" y2="341.51" class="tk"/>
<line x1="774.60" y1="341.51" x2="767.40" y2="341.51" class="tk"/>
<line x1="182.20" y1="351.98" x2="186.70" y2="351.98" class="tk"/>
<line x1="774.60" y1="351.98" x2="770.10" y2="351.98" class="tk"/>
<line x1="182.20" y1="362.44" x2="186.70" y2="362.44" class="tk"/>
<line x1="774.60" y1="362.44" x2="770.10" y2="362.44" class="tk"/>
<line x1="182.20" y1="372.91" x2="186.70" y2="372.91" class="tk"/>
<line x1="774.60" y1="372.91" x2="770.10" y2="372.91" class="tk"/>
<line x1="182.20" y1="383.38" x2="186.70" y2="383.38" class="tk"/>
<line x1="774.60" y1="383.38" x2="770.10" y2="383.38" class="tk"/>
<line x1="182.20" y1="393.85" x2="189.40" y2="393.85" class="tk"/>
<line x1="774.60" y1="393.85" x2="767.40" y2="393.85" class="tk"/>
</g>
<rect x="454.7" y="66.6" width="281.90000000000003" height="173.9" fill="#fff" class="itk"/>
<line x1="557.80" y1="66.60" x2="557.80" y2="240.50" class="iv"/>
<line x1="726.40" y1="240.50" x2="726.40" y2="234.20" class="itk2"/>
<line x1="557.80" y1="240.50" x2="557.80" y2="234.50" class="itk2"/>
<g clip-path="url(#ci)" fill="none">
<path d="M454.6 240.0 L456.9 239.3 L459.2 238.6 L461.4 237.9 L463.7 237.1 L466.0 236.4 L468.3 235.6 L470.6 234.8 L472.9 233.9 L475.1 233.1 L477.4 232.2 L479.7 231.4 L482.0 230.5 L484.3 229.6 L486.6 228.7 L488.8 227.7 L491.1 226.8 L493.4 225.8 L495.7 224.8 L498.0 223.8 L500.2 222.8 L502.5 221.8 L504.8 220.8 L507.1 219.7 L509.4 218.7 L511.7 217.6 L513.9 216.5 L516.2 215.4 L518.5 214.3 L520.8 213.1 L523.1 212.0 L525.4 210.8 L527.6 209.7 L529.9 208.5 L532.2 207.3 L534.5 206.1 L536.8 204.8 L539.0 203.6 L541.3 202.4 L543.6 201.1 L545.9 199.8 L548.2 198.6 L550.5 197.3 L552.7 196.0 L555.0 194.7 L557.3 193.3 L559.6 192.0 L561.9 190.6 L564.2 189.3 L566.4 187.9 L568.7 186.6 L571.0 185.2 L573.3 183.8 L575.6 182.4 L577.8 181.0 L580.1 179.5 L582.4 178.1 L584.7 176.7 L587.0 175.2 L589.3 173.8 L591.5 172.3 L593.8 170.8 L596.1 169.4 L598.4 167.9 L600.7 166.4 L603.0 164.9 L605.2 163.4 L607.5 161.8 L609.8 160.3 L612.1 158.8 L614.4 157.2 L616.6 155.7 L618.9 154.1 L621.2 152.6 L623.5 151.0 L625.8 149.5 L628.1 147.9 L630.3 146.3 L632.6 144.7 L634.9 143.1 L637.2 141.5 L639.5 139.9 L641.8 138.3 L644.0 136.7 L646.3 135.1 L648.6 133.5 L650.9 131.8 L653.2 130.2 L655.4 128.6 L657.7 127.0 L660.0 125.3 L662.3 123.7 L664.6 122.0 L666.9 120.4 L669.1 118.7 L671.4 117.1 L673.7 115.4 L676.0 113.8 L678.3 112.1 L680.6 110.4 L682.8 108.8 L685.1 107.1 L687.4 105.4 L689.7 103.8 L692.0 102.1 L694.2 100.4 L696.5 98.7 L698.8 97.1 L701.1 95.4 L703.4 93.7 L705.7 92.0 L707.9 90.4 L710.2 88.7 L712.5 87.0 L714.8 85.3 L717.1 83.7 L719.4 82.0 L721.6 80.3 L723.9 78.6 L726.2 77.0 L726.2 77.0 L724.4 78.3 L722.6 79.5 L720.8 80.7 L719.0 81.9 L717.2 83.1 L715.4 84.3 L713.6 85.5 L711.8 86.6 L710.0 87.8 L708.2 88.9 L706.4 90.1 L704.6 91.2 L702.8 92.3 L701.0 93.4 L699.2 94.5 L697.4 95.6 L695.6 96.6 L693.8 97.7 L692.0 98.8 L690.2 99.8 L688.4 100.9 L686.6 101.9 L684.8 103.0 L683.0 104.0 L681.2 105.0 L679.4 106.0 L677.6 107.0 L675.8 108.0 L674.0 109.0 L672.1 110.0 L670.3 111.0 L668.5 111.9 L666.7 112.9 L664.9 113.8 L663.1 114.8 L661.3 115.7 L659.5 116.7 L657.7 117.6 L655.9 118.5 L654.1 119.4 L652.3 120.3 L650.5 121.2 L648.7 122.1 L646.9 123.0 L645.1 123.9 L643.3 124.8 L641.5 125.6 L639.7 126.5 L637.9 127.3 L636.1 128.2 L634.3 129.0 L632.5 129.8 L630.7 130.6 L628.9 131.5 L627.1 132.3 L625.3 133.1 L623.5 133.8 L621.7 134.6 L619.9 135.4" stroke="#ff8000" stroke-width="4.8" stroke-linejoin="bevel"/>
<path d="M480.6 195.6 L482.4 195.5 L484.2 195.3 L486.0 195.1 L487.8 194.7 L489.6 194.3 L491.4 193.9 L493.2 193.4 L495.1 192.9 L496.9 192.3 L498.7 191.7 L500.5 191.1 L502.3 190.5 L504.1 189.9 L505.9 189.3 L507.7 188.7 L509.5 188.0 L511.3 187.4 L513.1 186.7 L514.9 186.1 L516.7 185.4 L518.5 184.8 L520.4 184.1 L522.2 183.5 L524.0 182.8 L525.8 182.2 L527.6 181.5 L529.4 180.9 L531.2 180.3 L533.0 179.6 L534.8 179.0 L536.6 178.3 L538.4 177.7 L540.2 177.1 L542.0 176.4 L543.8 175.7 L545.7 175.1 L547.5 174.4 L549.3 173.7 L551.1 173.0 L552.9 172.3 L554.7 171.6 L556.5 170.8 L558.3 170.1 L560.1 169.3 L561.9 168.5 L563.7 167.7 L565.5 166.9 L567.3 166.0 L569.1 165.2 L571.0 164.3 L572.8 163.4 L574.6 162.6 L576.4 161.7 L578.2 160.8 L580.0 159.8 L581.8 158.9 L583.6 158.0 L585.4 157.0 L587.2 156.1 L589.0 155.1 L590.8 154.2 L592.6 153.2 L594.4 152.2 L596.3 151.3 L598.1 150.3 L599.9 149.3 L601.7 148.3 L603.5 147.3 L605.3 146.3 L607.1 145.3 L608.9 144.4 L610.7 143.4 L612.5 142.3 L614.3 141.3 L616.1 140.3 L617.9 139.3 L619.7 138.3 L621.6 137.3 L623.4 136.2 L625.2 135.2 L627.0 134.1 L628.8 133.1 L630.6 132.1 L632.4 131.0 L634.2 130.0 L636.0 128.9 L637.8 127.9 L639.6 126.8 L641.4 125.8 L643.2 124.8 L645.0 123.8 L646.9 122.8 L648.7 121.8 L650.5 120.8 L652.3 119.8 L654.1 118.8 L655.9 117.9 L657.7 116.9 L659.5 116.0" stroke="#0000ff" stroke-width="4.8" stroke-dasharray="15.5 6.7" stroke-dashoffset="13.2"/>
<path d="M480.6 195.6 L483.8 195.5 L487.1 195.4 L490.3 195.3 L493.6 195.2 L496.8 195.1 L500.0 195.0 L503.3 195.0 L506.5 194.9 L509.8 194.8 L513.0 194.7 L516.2 194.7 L519.5 194.6 L522.7 194.5 L526.0 194.5 L529.2 194.4 L532.4 194.4 L535.7 194.4 L538.9 194.3 L542.2 194.3 L545.4 194.3 L548.7 194.2 L551.9 194.2 L555.1 194.2 L558.4 194.2 L561.6 194.2 L564.9 194.2 L568.1 194.2 L571.3 194.2 L574.6 194.2 L577.8 194.2 L581.1 194.2 L584.3 194.2 L587.5 194.2 L590.8 194.2 L594.0 194.3 L597.3 194.3 L600.5 194.3 L603.7 194.4 L607.0 194.4 L610.2 194.5 L613.5 194.5 L616.7 194.6 L619.9 194.7 L623.2 194.7 L626.4 194.8 L629.7 194.9 L632.9 194.9 L636.1 195.0 L639.4 195.1 L642.6 195.2 L645.9 195.3 L649.1 195.4 L652.3 195.5 L655.6 195.6 L658.8 195.7 L662.1 195.8 L665.3 195.9 L668.5 196.0 L671.8 196.2 L675.0 196.3 L678.3 196.4 L681.5 196.6 L684.8 196.7 L688.0 196.8 L691.2 197.0 L694.5 197.1 L697.7 197.3 L701.0 197.5 L704.2 197.6 L707.4 197.8 L710.7 198.0 L713.9 198.1 L717.2 198.3 L720.4 198.5 L723.6 198.7 L726.9 198.9 L730.1 199.1 L733.4 199.3 L736.6 199.5" stroke="#0000ff" stroke-width="4.8" stroke-dasharray="15.5 6.7" stroke-dashoffset="2.7"/>
</g>
<circle cx="640.5" cy="126.4" r="6.6" fill="#000"/>
<g opacity="0.999" font-family="'Liberation Serif', serif" fill="#000">
<text x="173.20" y="39.30" font-size="27.8" text-anchor="end"  >0.000</text>
<text x="173.20" y="91.64" font-size="27.8" text-anchor="end"  >0.005</text>
<line x1="92.10" y1="82.84" x2="106.30" y2="82.84" stroke="#000" stroke-width="1.4"/>
<text x="173.20" y="143.97" font-size="27.8" text-anchor="end"  >0.010</text>
<line x1="92.10" y1="135.17" x2="106.30" y2="135.17" stroke="#000" stroke-width="1.4"/>
<text x="173.20" y="196.31" font-size="27.8" text-anchor="end"  >0.015</text>
<line x1="92.10" y1="187.50" x2="106.30" y2="187.50" stroke="#000" stroke-width="1.4"/>
<text x="173.20" y="248.64" font-size="27.8" text-anchor="end"  >0.020</text>
<line x1="92.10" y1="239.84" x2="106.30" y2="239.84" stroke="#000" stroke-width="1.4"/>
<text x="173.20" y="300.98" font-size="27.8" text-anchor="end"  >0.025</text>
<line x1="92.10" y1="292.18" x2="106.30" y2="292.18" stroke="#000" stroke-width="1.4"/>
<text x="173.20" y="353.31" font-size="27.8" text-anchor="end"  >0.030</text>
<line x1="92.10" y1="344.51" x2="106.30" y2="344.51" stroke="#000" stroke-width="1.4"/>
<text x="173.20" y="405.65" font-size="27.8" text-anchor="end"  >0.035</text>
<line x1="92.10" y1="396.85" x2="106.30" y2="396.85" stroke="#000" stroke-width="1.4"/>
<text x="182.50" y="432.70" font-size="27.8" text-anchor="middle"  >0.00</text>
<text x="281.25" y="432.70" font-size="27.8" text-anchor="middle"  >0.05</text>
<text x="380.00" y="432.70" font-size="27.8" text-anchor="middle"  >0.10</text>
<text x="478.75" y="432.70" font-size="27.8" text-anchor="middle"  >0.15</text>
<text x="577.50" y="432.70" font-size="27.8" text-anchor="middle"  >0.20</text>
<text x="676.25" y="432.70" font-size="27.8" text-anchor="middle"  >0.25</text>
<text x="775.00" y="432.70" font-size="27.8" text-anchor="middle"  >0.30</text>
<text x="446.60" y="78.60" font-size="27.8" text-anchor="end"  >0.025</text>
<line x1="364.80" y1="69.80" x2="379.00" y2="69.80" stroke="#000" stroke-width="1.4"/>
<text x="446.40" y="252.50" font-size="27.8" text-anchor="end"  >0.03</text>
<line x1="378.60" y1="243.70" x2="392.80" y2="243.70" stroke="#000" stroke-width="1.4"/>
<text x="455.00" y="280.10" font-size="27.8" text-anchor="middle"  >0.068</text>
<text x="558.20" y="280.10" font-size="27.8" text-anchor="middle"  >0.0733</text>
<text x="726.60" y="280.10" font-size="27.8" text-anchor="middle"  >0.082</text>
<text transform="matrix(0.3820 0 0 0.3574 426.60 493.30)" font-size="100" stroke="#fff" stroke-width="0.6" vector-effect="non-scaling-stroke" paint-order="fill stroke" font-style="italic">m</text>
<line x1="456.4" y1="500.4" x2="468.5" y2="468.4" stroke="#000" stroke-width="1.45"/>
<text transform="matrix(0.2480 0 0 0.3447 471.50 492.96)" font-size="100" stroke="#fff" stroke-width="0.3" vector-effect="non-scaling-stroke" paint-order="fill stroke" font-style="italic">b</text>
<path d="M487.3 481.1 L490.0 479.1 L496.7 493.6 L511.9 461.9 L531.8 461.9" fill="none" stroke="#000" stroke-width="1.35" stroke-linejoin="miter"/>
<path d="M490.0 479.4 L496.3 493.0" fill="none" stroke="#000" stroke-width="2.6"/>
<text transform="matrix(0.3628 0 0 0.3376 514.31 493.30)" font-size="100" stroke="#fff" stroke-width="0.5" vector-effect="non-scaling-stroke" paint-order="fill stroke" font-style="italic">λ</text>
<g transform="rotate(-90)"><text transform="matrix(0.3899 0 0 0.3477 -292.05 48.46)" font-size="100" stroke="#fff" stroke-width="0.5" vector-effect="non-scaling-stroke" paint-order="fill stroke" font-style="italic">f</text>
<line x1="-271.6" y1="56.0" x2="-260.6" y2="23.8" stroke="#000" stroke-width="1.45"/>
<text transform="matrix(0.2560 0 0 0.3390 -256.55 48.31)" font-size="100" stroke="#fff" stroke-width="0.3" vector-effect="non-scaling-stroke" paint-order="fill stroke" font-style="italic">b</text>
<text transform="matrix(0.1980 0 0 0.2160 -244.10 34.90)" font-size="100"  >4</text>
<line x1="-228.5" y1="40.3" x2="-129.7" y2="40.3" stroke="#000" stroke-width="1.5"/>
<text transform="matrix(0.3891 0 0 0.3404 -225.38 26.15)" font-size="100" stroke="#fff" stroke-width="0.5" vector-effect="non-scaling-stroke" paint-order="fill stroke" font-style="italic">λ</text>
<text transform="matrix(0.3446 0 0 0.3573 -206.44 26.20)" font-size="100" stroke="#fff" stroke-width="0.6" vector-effect="non-scaling-stroke" paint-order="fill stroke" font-style="italic">N</text>
<text transform="matrix(0.3114 0 0 0.1809 -181.85 32.91)" font-size="100" stroke="#fff" stroke-width="0.5" vector-effect="non-scaling-stroke" paint-order="fill stroke" font-style="italic">f</text>
<text transform="matrix(0.3349 0 0 0.3573 -165.95 26.20)" font-size="100" stroke="#fff" stroke-width="0.6" vector-effect="non-scaling-stroke" paint-order="fill stroke" font-style="italic">N</text>
<text transform="matrix(0.1933 0 0 0.1792 -141.50 32.02)" font-size="100"  font-style="italic">c</text>
<text transform="matrix(0.1740 0 0 0.3455 -209.20 72.00)" font-size="100"  >1</text>
<text transform="matrix(0.3220 0 0 0.3554 -198.20 71.94)" font-size="100"  >6</text>
<text transform="matrix(0.3543 0 0 0.3340 -180.35 72.12)" font-size="100" stroke="#fff" stroke-width="0.5" vector-effect="non-scaling-stroke" paint-order="fill stroke" font-style="italic">π</text>
<text transform="matrix(0.2000 0 0 0.2144 -158.60 60.90)" font-size="100"  >4</text></g>
</g>
</svg>
</body></html>
